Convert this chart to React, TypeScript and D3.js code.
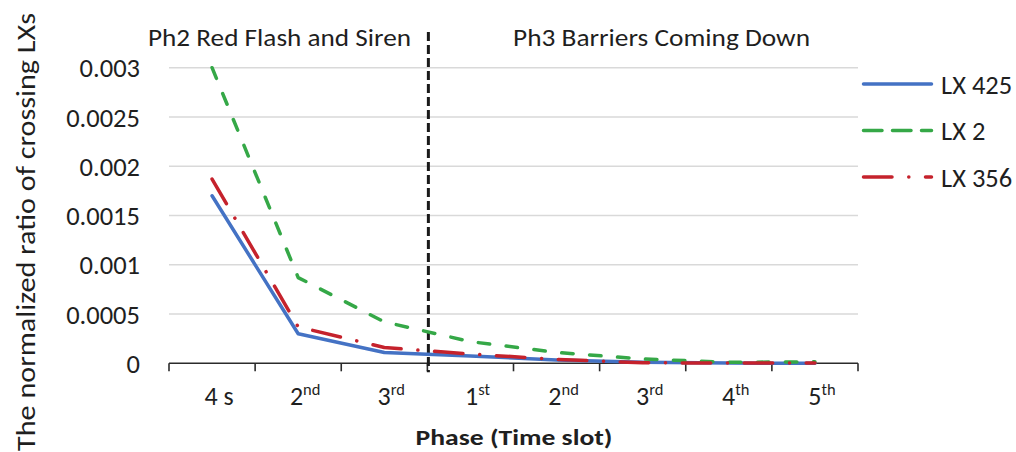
import React from "react";
import * as d3 from "d3";

// ---- data ----
const categories = ["4 s", "2nd", "3rd", "1st", "2nd", "3rd", "4th", "5th"];
const yTicks = [0, 0.0005, 0.001, 0.0015, 0.002, 0.0025, 0.003];
const lx425 = [0.0017, 0.0003, 0.00011, 0.000074, 0.000034, 0.00001, 0.000002, 0];
const lx2 = [0.003, 0.00087, 0.00042, 0.00022, 0.00011, 0.000044, 0.00001, 0.000015];
const lx356 = [0.00187, 0.00037, 0.00016, 0.000094, 0.00004, 0.000005, 0.000003, 0.000002];
const seriesNames = ["LX 425", "LX 2", "LX 356"];
const phaseTitles = ["Ph2 Red Flash and Siren", "Ph3 Barriers Coming Down"];
const yTitle = "The normalized ratio of crossing LXs";
const xTitle = "Phase (Time slot)";

const W = 1016;
const H = 452;
const FONT = "Carlito, Lato, 'Open Sans', sans-serif";
const TXT = "#1f1f1f";

const series = [
  { name: seriesNames[0], values: lx425, color: "#4472C4", dash: null, legendDash: null },
  { name: seriesNames[1], values: lx2, color: "#35A847", dash: "11.5,16.5", legendDash: "18.5,10.5" },
  { name: seriesNames[2], values: lx356, color: "#C5222C", dash: "28.5,16.75,0.1,16.65", legendDash: "28.5,16.75,0.1,16.65" },
];

export default function App() {
  const x = d3
    .scaleBand<number>()
    .domain(categories.map((_, i) => i))
    .range([169, 858])
    .paddingInner(0)
    .paddingOuter(0);
  const y = d3.scaleLinear().domain([0, 0.003]).range([363.3, 67.7]);
  const cx = (i: number) => (x(i) as number) + x.bandwidth() / 2;

  const line = d3
    .line<number>()
    .x((_, i) => cx(i))
    .y((v) => y(v))
    .curve(d3.curveLinear);

  const boundaries = categories.map((_, i) => x(i) as number).concat([x.range()[1]]);
  const divider = x(3) as number;
  const fmt = (v: number) => (v === 0 ? "0" : String(+v.toFixed(4)));

  const legendY = [84, 130.5, 177];

  return (
    <svg
      width={W}
      height={H}
      style={{ position: "absolute", left: 0, top: 0, background: "#fff" }}
      fontFamily={FONT}
    >
      <rect width={W} height={H} fill="#fff" />
      {/* gridlines */}
      {yTicks
        .filter((t) => t > 0)
        .map((t) => (
          <line key={t} x1={169} x2={858} y1={y(t)} y2={y(t)} stroke="#D9D9D9" strokeWidth={1.5} />
        ))}
      {/* y tick labels */}
      {yTicks.map((t) => (
        <text key={"yl" + t} x={140} y={y(t)} dy="0.36em" textAnchor="end" fontSize={26.5} fill={TXT}>
          {fmt(t)}
        </text>
      ))}
      {/* x axis */}
      <line x1={169} x2={858} y1={y(0)} y2={y(0)} stroke="#2b2b2b" strokeWidth={1.6} />
      {boundaries.map((b, i) => (
        <line key={"tk" + i} x1={b} x2={b} y1={y(0)} y2={y(0) + 8} stroke="#2b2b2b" strokeWidth={1.6} />
      ))}
      {/* x tick labels */}
      {categories.map((c, i) => {
        const m = c.match(/^(\d)(st|nd|rd|th)$/);
        return (
          <text key={"xl" + i} x={cx(i) + 7} y={405} textAnchor="middle" fontSize={26} fill={TXT}>
            {m ? (
              <>
                <tspan>{m[1]}</tspan>
                <tspan fontSize={16.5} dy={-10}>
                  {m[2]}
                </tspan>
              </>
            ) : (
              c
            )}
          </text>
        );
      })}
      {/* divider */}
      <line
        x1={divider + 1}
        x2={divider + 1}
        y1={32}
        y2={y(0) + 9}
        stroke="#1a1a1a"
        strokeWidth={3}
        strokeDasharray="9,4"
      />
      {/* phase titles */}
      <text x={148} y={46} fontSize={25.5} fill={TXT} textLength={263} lengthAdjust="spacingAndGlyphs">
        {phaseTitles[0]}
      </text>
      <text x={513} y={46} fontSize={25.5} fill={TXT} textLength={297} lengthAdjust="spacingAndGlyphs">
        {phaseTitles[1]}
      </text>
      {/* series lines */}
      {series.map((s) => (
        <path
          key={s.name}
          d={line(s.values) || ""}
          fill="none"
          stroke={s.color}
          strokeWidth={3.5}
          strokeLinejoin="round"
          strokeLinecap="round"
          strokeDasharray={s.dash || undefined}
        />
      ))}
      {/* legend */}
      {series.map((s, i) => (
        <g key={"lg" + s.name}>
          <line
            x1={863.5}
            x2={931.5}
            y1={legendY[i]}
            y2={legendY[i]}
            stroke={s.color}
            strokeWidth={3.5}
            strokeLinecap="round"
            strokeDasharray={s.legendDash || undefined}
          />
          <text x={941} y={legendY[i]} dy="0.36em" fontSize={26.5} fill={TXT}>
            {s.name}
          </text>
        </g>
      ))}
      {/* axis titles */}
      <text
        transform={`translate(35,232) rotate(-90)`}
        textAnchor="middle"
        fontSize={26.5}
        fill={TXT}
        textLength={438}
        lengthAdjust="spacingAndGlyphs"
      >
        {yTitle}
      </text>
      <text
        x={514}
        y={445}
        textAnchor="middle"
        fontSize={23}
        fontWeight="bold"
        fill={TXT}
        textLength={197}
        lengthAdjust="spacingAndGlyphs"
      >
        {xTitle}
      </text>
    </svg>
  );
}
